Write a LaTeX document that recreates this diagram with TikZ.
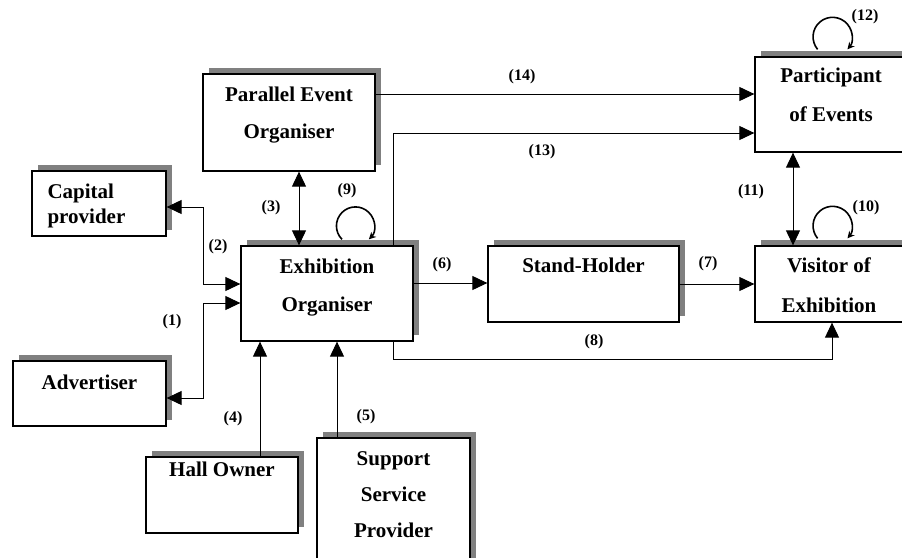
\documentclass[tikz,border=0pt]{standalone}
\usepackage{fontspec}
\setmainfont{Liberation Serif}
\usetikzlibrary{arrows.meta, shadows}
\definecolor{shadowgray}{HTML}{808080}

\begin{document}
\begin{tikzpicture}[x=1pt, y=-1pt,
		actor/.style={draw, line width=1.3pt, fill=white, inner sep=0pt, drop shadow={shadow xshift=6pt, shadow yshift=6pt, fill=shadowgray, opacity=1}},
		txt/.style={font=\fontsize{21}{38}\selectfont\bfseries, align=center, inner sep=0pt, anchor=base},
		num/.style={font=\fontsize{16}{18}\selectfont\bfseries, inner sep=0pt},
		arrow/.style={-{Triangle[length=15pt, width=14pt]}, line width=1pt},
		biarrow/.style={{Triangle[length=15pt, width=14pt]}-{Triangle[length=15pt, width=14pt]}, line width=1pt},
		selfloop/.style={-{Stealth[length=7pt, width=7pt]}, line width=1.6pt}
	]
	\clip (0,0) rectangle (902,557);
	\useasboundingbox (0,0) rectangle (902,557);
	% actors
	\node[actor, minimum width=134pt, minimum height=65pt] (cap) at (99,203.5) {};
	\node[actor, minimum width=153pt, minimum height=65pt] (adv) at (89.5,393.5) {};
	\node[actor, minimum width=172pt, minimum height=97pt] (peo) at (289,122.5) {};
	\node[actor, minimum width=172pt, minimum height=95pt] (exh) at (327,293.5) {};
	\node[actor, minimum width=191pt, minimum height=76pt] (sh) at (583.5,284) {};
	\node[actor, minimum width=150pt, minimum height=76pt] (vis) at (830,284) {};
	\node[actor, minimum width=150pt, minimum height=95pt] (par) at (830,104.5) {};
	\node[actor, minimum width=152pt, minimum height=76pt] (hall) at (222,495) {};
	\node[actor, minimum width=153pt, minimum height=137pt] (ssp) at (393.5,506.5) {};
	% texts (anchored at the baseline of their last line)
	\node[txt, align=left, anchor=base west, font=\fontsize{21}{25}\selectfont\bfseries] (cap-t) at ([xshift=16pt, yshift=-53pt]cap.north west) {Capital\\provider};
	\node[txt] (adv-t) at ([yshift=-29pt]adv.north) {Advertiser};
	\node[txt, font=\fontsize{21}{37}\selectfont\bfseries] (peo-t) at ([yshift=-65pt]peo.north) {Parallel Event\\Organiser};
	\node[txt] (exh-t) at ([yshift=-66pt]exh.north) {Exhibition\\Organiser};
	\node[txt] (sh-t) at ([yshift=-27pt]sh.north) {Stand-Holder};
	\node[txt, font=\fontsize{21}{40}\selectfont\bfseries] (vis-t) at ([xshift=-1pt, yshift=-67pt]vis.north) {Visitor of\\Exhibition};
	\node[txt, font=\fontsize{21}{39}\selectfont\bfseries] (par-t) at ([xshift=1pt, yshift=-65pt]par.north) {Participant\\of Events};
	\node[txt] (hall-t) at ([yshift=-20pt]hall.north) {Hall Owner};
	\node[txt, font=\fontsize{21}{36}\selectfont\bfseries] (ssp-t) at ([yshift=-100pt]ssp.north) {Support\\Service\\Provider};
	% relations
	\draw[biarrow] ([yshift=-4.5pt]adv.east) -- ++(37,0) |- ([yshift=-9.5pt]exh.west);
	\draw[biarrow] ([yshift=-3.5pt]cap.east) -- ++(37,0) |- ([yshift=9.5pt]exh.west);
	\draw[biarrow] ([xshift=10pt]peo.south) -- ([xshift=10pt]peo.south |- exh.north);
	\draw[arrow] ([xshift=38pt]hall.north) -- ([xshift=38pt]hall.north |- exh.south);
	\draw[arrow] ([xshift=-56.5pt]ssp.north) -- ([xshift=-56.5pt]ssp.north |- exh.south);
	\draw[arrow] ([yshift=10.5pt]exh.east) -- ([yshift=10.5pt]exh.east -| sh.west);
	\draw[arrow] (sh.east) -- (vis.west);
	\draw[arrow] ([xshift=66pt]exh.south) -- ++(0,18) -| ([xshift=2pt]vis.south);
	\draw[selfloop] ([xshift=15pt, yshift=6pt]exh.north) arc[start angle=135, end angle=405, radius=19];
	\draw[selfloop] ([xshift=-12.4pt, yshift=7pt]vis.north) arc[start angle=140, end angle=400, radius=19.5];
	\draw[biarrow] ([xshift=-37pt]par.south) -- ([xshift=-37pt]par.south |- vis.north);
	\draw[selfloop] ([xshift=-12.4pt, yshift=7pt]par.north) arc[start angle=140, end angle=400, radius=19.5];
	\draw[arrow] ([xshift=66pt]exh.north) |- ([yshift=-28.5pt]par.west);
	\draw[arrow] ([yshift=28.5pt]peo.east) -- ([yshift=28.5pt]peo.east -| par.west);
	% numbers
	\node[num] (n1) at (172,322) {(1)};
	\node[num] (n2) at (218,247) {(2)};
	\node[num] (n3) at (271,208) {(3)};
	\node[num] (n4) at (233,419) {(4)};
	\node[num] (n5) at (366,417) {(5)};
	\node[num] (n6) at (442,265) {(6)};
	\node[num] (n7) at (708,264) {(7)};
	\node[num] (n8) at (594,342) {(8)};
	\node[num] (n9) at (347,191) {(9)};
	\node[num] (n10) at (866,208) {(10)};
	\node[num] (n11) at (751,192) {(11)};
	\node[num] (n12) at (865,17) {(12)};
	\node[num] (n13) at (542,152) {(13)};
	\node[num] (n14) at (522,77) {(14)};
\end{tikzpicture}
\end{document}
